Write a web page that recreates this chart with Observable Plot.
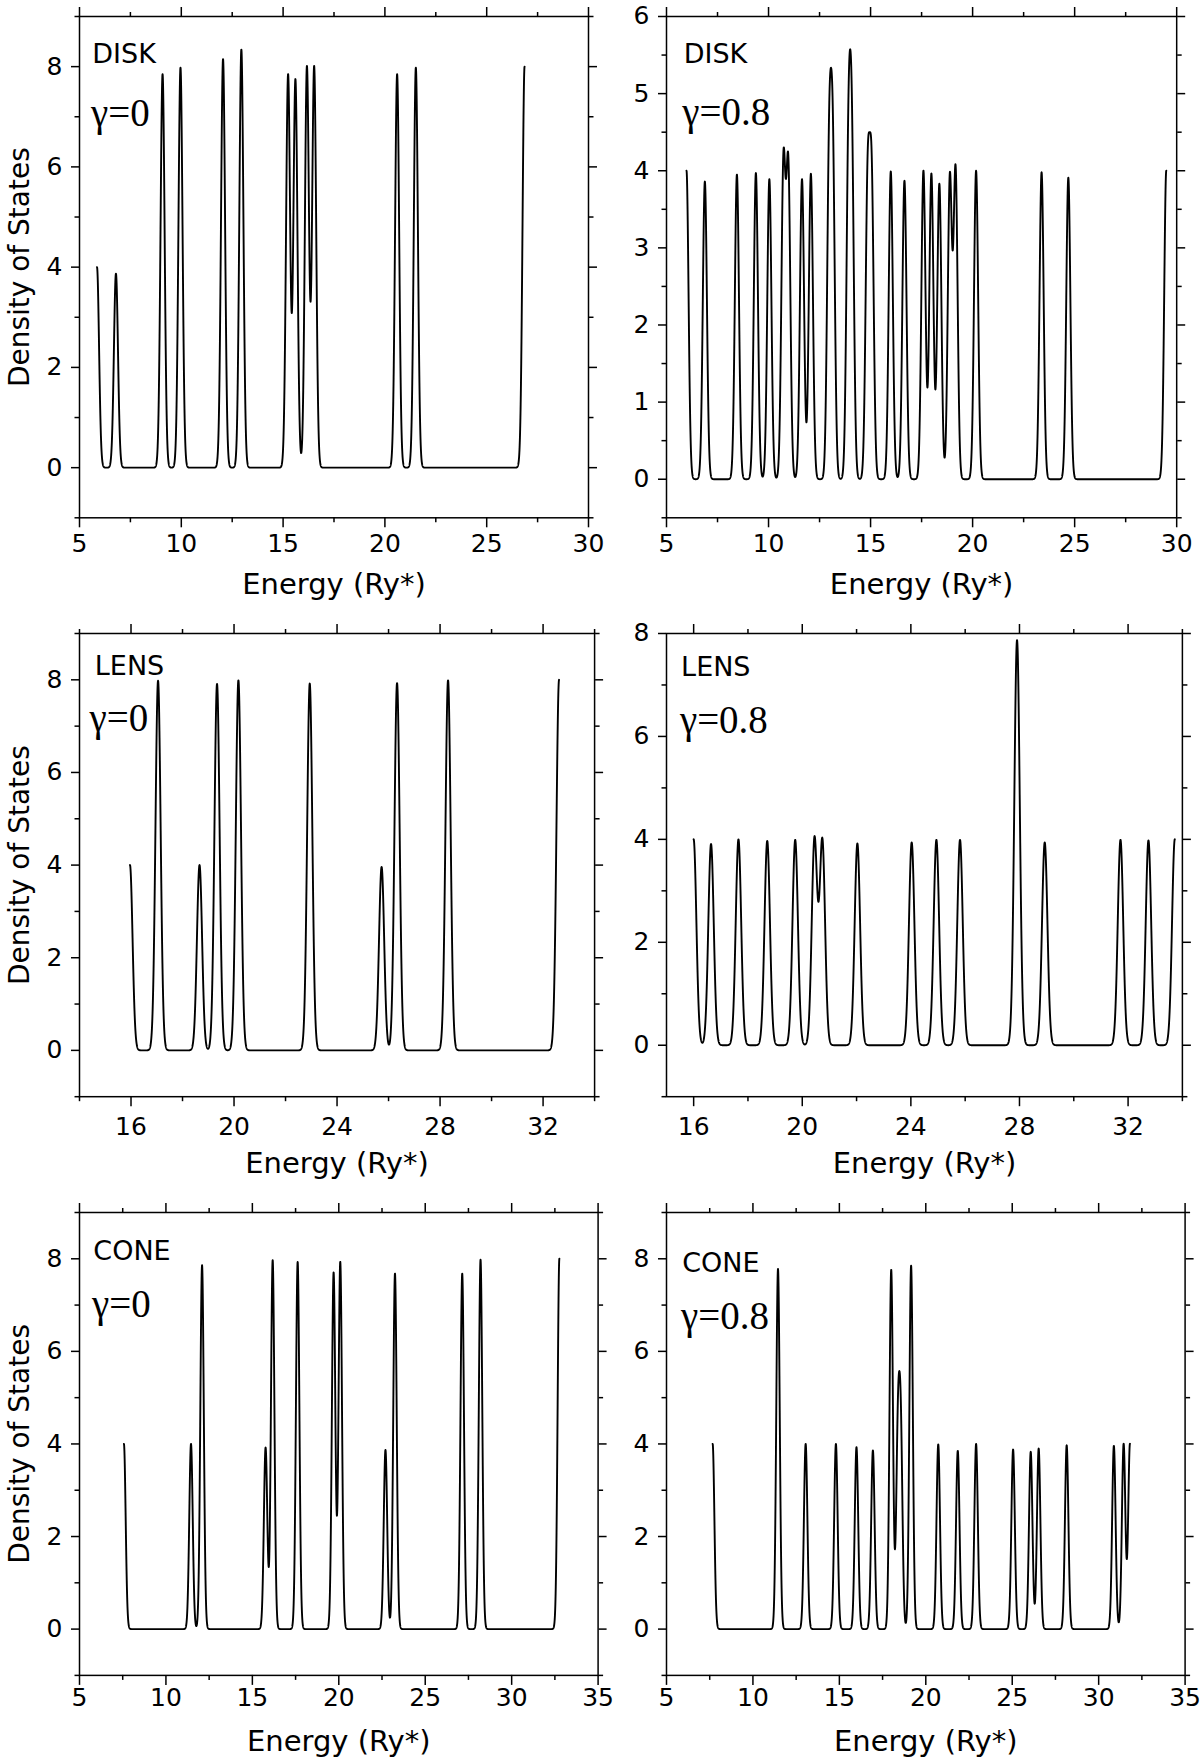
<!DOCTYPE html>
<html><head><meta charset="utf-8">
<script src="https://cdn.jsdelivr.net/npm/d3@7"></script>
<script src="https://cdn.jsdelivr.net/npm/@observablehq/plot@0.6"></script>
<style>
html,body{margin:0;padding:0;background:#fff;}
#page{position:relative;width:1200px;height:1757px;overflow:hidden;background:#fff;}
.panel{position:absolute;}
.panel svg{overflow:visible;}
</style></head>
<body><div id="page"></div>
<script>
// ---- Data: level energies (Ry*) and peak heights ----
const diskG0Levels  = [5.86, 6.79, 9.08, 9.96, 12.05, 12.95, 15.245, 15.605, 16.17, 16.525, 20.60, 21.52, 26.86];
const diskG0Heights = [4.0, 3.87, 7.85, 7.98, 8.15, 8.34, 7.84, 7.74, 8.0, 8.0, 7.85, 7.98, 8.0];

const diskG8Levels  = [5.98, 6.88, 8.45, 9.38, 10.04, 10.73, 10.97, 11.64, 12.075, 12.97, 13.15, 13.915, 14.085, 14.855, 15.055, 15.99, 16.66, 17.59, 17.98, 18.37, 18.885, 19.165, 20.17, 23.38, 24.69, 29.49];
const diskG8Heights = [4.0, 3.86, 3.95, 3.97, 3.89, 4.03, 3.97, 3.89, 3.96, 4.0, 4.0, 4.0, 4.0, 3.71, 3.71, 3.99, 3.87, 4.0, 3.96, 3.83, 3.9, 4.0, 4.0, 3.98, 3.91, 4.0];

const lensG0Levels  = [15.96, 17.05, 18.66, 19.34, 20.17, 22.94, 25.73, 26.33, 28.31, 32.62];
const lensG0Heights = [4.0, 7.98, 4.0, 7.91, 7.99, 7.92, 3.96, 7.93, 7.99, 8.0];

const lensG8Levels  = [16.0, 16.64, 17.65, 18.71, 19.74, 20.45, 20.74, 22.03, 24.03, 24.94, 25.81, 27.91, 28.93, 31.72, 32.75, 33.72];
const lensG8Heights = [4.0, 3.91, 4.0, 3.97, 3.99, 4.0, 3.97, 3.92, 3.94, 3.99, 3.99, 7.87, 3.94, 3.99, 3.98, 4.0];

const coneG0Levels  = [7.57, 11.45, 12.09, 15.765, 16.175, 17.62, 19.70, 20.085, 22.70, 23.25, 27.14, 28.20, 32.76];
const coneG0Heights = [4.0, 4.0, 7.86, 3.92, 7.97, 7.93, 7.7, 7.93, 3.87, 7.68, 7.68, 7.98, 8.0];

const coneG8Levels  = [7.67, 11.45, 13.05, 14.8, 15.99, 16.94, 18.0, 18.385, 18.555, 19.15, 20.72, 21.85, 22.91, 25.05, 26.07, 26.53, 28.15, 30.88, 31.445, 31.81];
const coneG8Heights = [4.0, 7.78, 4.0, 4.0, 3.93, 3.86, 7.76, 4.0, 4.0, 7.85, 3.99, 3.85, 4.0, 3.88, 3.83, 3.9, 3.97, 3.96, 4.0, 4.0];

// ---- Tick values ----
const ticks5to30Major = [5, 10, 15, 20, 25, 30];
const ticks5to30Minor = [7.5, 12.5, 17.5, 22.5, 27.5];
const ticks5to35Major = [5, 10, 15, 20, 25, 30, 35];
const ticks5to35Minor = [7.5, 12.5, 17.5, 22.5, 27.5, 32.5];
const ticksLensMajor = [16, 20, 24, 28, 32];
const ticksLensMinorA = [14, 18, 22, 26, 30, 34];
const ticksLensMinorB = [18, 22, 26, 30, 34];
const yMajor8 = [0, 2, 4, 6, 8];
const yMinor9 = [-1, 1, 3, 5, 7, 9];
const yMinor8 = [-1, 1, 3, 5, 7];
const yMajor6 = [0, 1, 2, 3, 4, 5, 6];
const yMinor6 = [-0.5, 0.5, 1.5, 2.5, 3.5, 4.5, 5.5];

const broadening = 0.1; // Gaussian width of each level (Ry*)

function dosCurve(levels, heights) {
  const lo = d3.min(levels), hi = d3.max(levels);
  const n = Math.round((hi - lo) / 0.004);
  return d3.range(n + 1).map(i => {
    const e = lo + (hi - lo) * i / n;
    let v = 0;
    levels.forEach((c, k) => { v += heights[k] * Math.exp(-((e - c) ** 2) / (2 * broadening * broadening)); });
    return {e, v};
  });
}

const panels = [
  {levels: diskG0Levels, heights: diskG0Heights, frame: [79.2, 588.2, 16.1, 517.4], xDomain: [5, 30], yDomain: [-1, 9],
   xMajor: ticks5to30Major, xMinor: ticks5to30Minor, yMajor: yMajor8, yMinor: yMinor9, xPad: 6,
   shape: "DISK", shapeDx: 12.8, shapeDy: 46.3, gamma: "γ=0", gDx: 11.5, gDy: 109.4, ylabel: true},
  {levels: diskG8Levels, heights: diskG8Heights, frame: [665.8, 1176.0, 16.1, 517.4], xDomain: [5, 30], yDomain: [-0.5, 6],
   xMajor: ticks5to30Major, xMinor: ticks5to30Minor, yMajor: yMajor6, yMinor: yMinor6, xPad: 6,
   shape: "DISK", shapeDx: 17.2, shapeDy: 46.3, gamma: "γ=0.8", gDx: 15.7, gDy: 108.3, ylabel: false},
  {levels: lensG0Levels, heights: lensG0Heights, frame: [79.2, 594.3, 633.3, 1096.5], xDomain: [14, 34], yDomain: [-1, 9],
   xMajor: ticksLensMajor, xMinor: ticksLensMinorA, yMajor: yMajor8, yMinor: yMinor9, xPad: 11,
   shape: "LENS", shapeDx: 15.3, shapeDy: 41.8, gamma: "γ=0", gDx: 10, gDy: 98, ylabel: true},
  {levels: lensG8Levels, heights: lensG8Heights, frame: [665.8, 1181.7, 633.3, 1096.5], xDomain: [15, 34], yDomain: [-1, 8],
   xMajor: ticksLensMajor, xMinor: ticksLensMinorB, yMajor: yMajor8, yMinor: yMinor8, xPad: 11,
   shape: "LENS", shapeDx: 14.6, shapeDy: 42.5, gamma: "γ=0.8", gDx: 13.4, gDy: 99.9, ylabel: false},
  {levels: coneG0Levels, heights: coneG0Heights, frame: [79.2, 597.8, 1212.0, 1674.9], xDomain: [5, 35], yDomain: [-1, 9],
   xMajor: ticks5to35Major, xMinor: ticks5to35Minor, yMajor: yMajor8, yMinor: yMinor9, xPad: 3,
   shape: "CONE", shapeDx: 13.8, shapeDy: 47.1, gamma: "γ=0", gDx: 12.6, gDy: 104.2, ylabel: true},
  {levels: coneG8Levels, heights: coneG8Heights, frame: [665.8, 1184.4, 1212.0, 1674.9], xDomain: [5, 35], yDomain: [-1, 9],
   xMajor: ticks5to35Major, xMinor: ticks5to35Minor, yMajor: yMajor8, yMinor: yMinor9, xPad: 3,
   shape: "CONE", shapeDx: 15.7, shapeDy: 60, gamma: "γ=0.8", gDx: 14.6, gDy: 117, ylabel: false}
];

const page = document.getElementById("page");
const blank = () => "";
const sw = 1.5;

panels.forEach(p => {
  const mL = 80, mR = 20, mT = 20, mB = 90;
  const fw = p.frame[1] - p.frame[0], fh = p.frame[3] - p.frame[2];
  const W = fw + mL + mR, H = fh + mT + mB;
  const marks = [
    Plot.axisX(p.xMajor, {anchor: "bottom", tickSize: 10, tickPadding: p.xPad, tickFormat: d => String(d), label: null, strokeWidth: sw}),
    Plot.axisX(p.xMinor, {anchor: "bottom", tickSize: 5, tickFormat: blank, label: null, strokeWidth: sw}),
    Plot.axisX(p.xMajor, {anchor: "top", tickSize: 10, tickFormat: blank, label: null, strokeWidth: sw}),
    Plot.axisX(p.xMinor, {anchor: "top", tickSize: 5, tickFormat: blank, label: null, strokeWidth: sw}),
    Plot.axisY(p.yMajor, {anchor: "left", tickSize: 8, tickPadding: 9, tickFormat: d => String(d), label: null, strokeWidth: sw}),
    Plot.axisY(p.yMinor, {anchor: "left", tickSize: 4.5, tickFormat: blank, label: null, strokeWidth: sw}),
    Plot.axisY(p.yMajor, {anchor: "right", tickSize: 8, tickFormat: blank, label: null, strokeWidth: sw}),
    Plot.axisY(p.yMinor, {anchor: "right", tickSize: 4.5, tickFormat: blank, label: null, strokeWidth: sw}),
    Plot.frame({stroke: "black", strokeWidth: sw}),
    Plot.line(dosCurve(p.levels, p.heights), {x: "e", y: "v", stroke: "black", strokeWidth: 1.9}),
    Plot.text([p.shape], {text: d => d, frameAnchor: "top-left", dx: p.shapeDx, dy: p.shapeDy, textAnchor: "start", lineAnchor: "bottom", fontSize: 27, fill: "black"}),
    Plot.text([p.gamma], {text: d => d, frameAnchor: "top-left", dx: p.gDx, dy: p.gDy, textAnchor: "start", lineAnchor: "bottom", fontSize: 39, fontFamily: "'Liberation Serif', 'Times New Roman', serif", fill: "black"}),
    Plot.text(["Energy (Ry*)"], {text: d => d, frameAnchor: "bottom", dy: 76, textAnchor: "middle", lineAnchor: "bottom", fontSize: 29, fill: "black"})
  ];
  if (p.ylabel) {
    marks.push(Plot.text(["Density of States"], {text: d => d, frameAnchor: "left", dx: -51, rotate: -90, textAnchor: "middle", lineAnchor: "bottom", fontSize: 28, fill: "black"}));
  }
  const svg = Plot.plot({
    width: W, height: H,
    marginLeft: mL, marginRight: mR, marginTop: mT, marginBottom: mB,
    x: {domain: p.xDomain, label: null},
    y: {domain: p.yDomain, label: null},
    style: {fontFamily: "'DejaVu Sans', sans-serif", fontSize: "25px", color: "black", background: "transparent", overflow: "visible"},
    marks
  });
  const div = document.createElement("div");
  div.className = "panel";
  div.style.left = (p.frame[0] - mL) + "px";
  div.style.top = (p.frame[2] - mT) + "px";
  div.style.width = W + "px";
  div.appendChild(svg);
  page.appendChild(div);
});
</script>
</body></html>
